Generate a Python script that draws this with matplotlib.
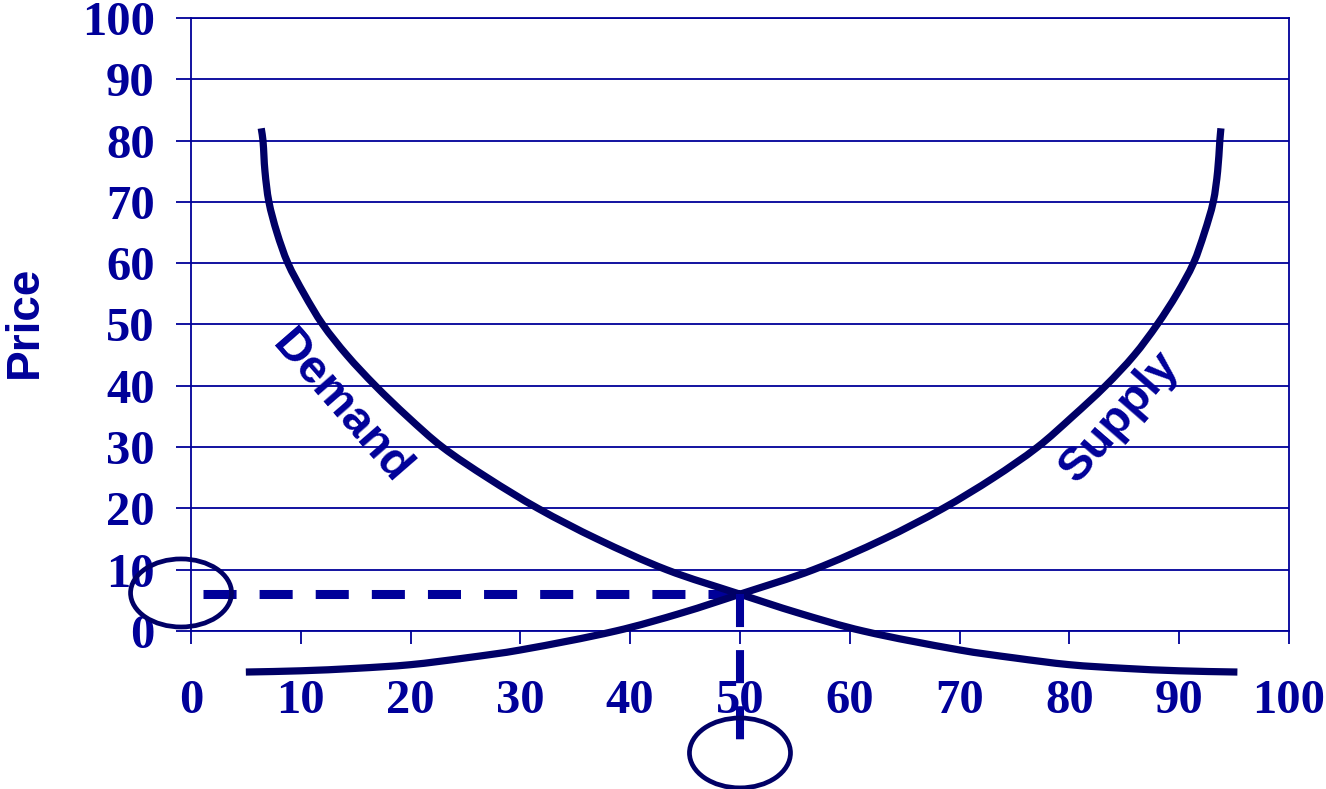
import matplotlib
matplotlib.use("Agg")
import matplotlib.pyplot as plt
import numpy as np
from matplotlib.patches import Ellipse, PathPatch
from matplotlib.path import Path

# Werte
demand_x = [6.4, 6.56, 6.74, 7.1, 7.83, 8.83, 10.3, 12.0, 14.2, 16.8, 19.7, 22.9, 27.0,
            31.6, 37.0, 43.3, 50.0, 55.2, 61.2, 70.0, 75.0, 80.0, 85.0, 90.0, 95.3]
demand_y = [82, 80, 75, 70, 65, 60, 55, 50, 45, 40, 35, 30, 25,
            20, 15, 10, 6, 3, 0, -3.1, -4.4, -5.5, -6.1, -6.5, -6.7]

supply_x = [5.0, 10.0, 15.0, 20.0, 25.0, 30.0, 38.7, 44.8, 50.0, 56.7, 63.1, 68.5, 73.1,
            77.1, 80.3, 83.3, 85.9, 88.0, 89.8, 91.3, 92.3, 93.1, 93.5, 93.7, 93.8]
supply_y = [-6.7, -6.5, -6.1, -5.5, -4.4, -3.1, 0, 3, 6, 10, 15, 20, 25,
            30, 35, 40, 45, 50, 55, 60, 65, 70, 75, 80, 82]

eq_quantity = 50
eq_price = 6

x_ticks = list(range(0, 101, 10))
y_ticks = list(range(0, 101, 10))

blue = "#000099"
navy = "#000066"

plt.rcParams['lines.scale_dashes'] = False


def smooth_path(ax, xs, ys):
    P = ax.transData.transform(np.column_stack([xs, ys]).astype(float))
    T = np.zeros_like(P)
    T[0] = P[1] - P[0]
    T[-1] = P[-1] - P[-2]
    T[1:-1] = P[2:] - P[:-2]
    T /= np.linalg.norm(T, axis=1)[:, None]
    verts = [P[0]]
    codes = [Path.MOVETO]
    for i in range(len(P) - 1):
        d = np.linalg.norm(P[i + 1] - P[i])
        verts += [P[i] + T[i] * d / 3, P[i + 1] - T[i + 1] * d / 3, P[i + 1]]
        codes += [Path.CURVE4] * 3
    verts = ax.transData.inverted().transform(np.array(verts))
    return Path(verts, codes)


fig = plt.figure(figsize=(13.26, 7.89), dpi=100)
ax = fig.add_axes([0.1440, 0.2003, 0.8281, 0.7769])

ax.set_xlim(0, 100)
ax.set_ylim(0, 100)
ax.set_xticks(x_ticks)
ax.set_yticks(y_ticks)

for s in ax.spines.values():
    s.set_color(blue)
    s.set_linewidth(1.3)

ax.yaxis.grid(True, color=blue, linewidth=1.3)
ax.set_axisbelow(True)

ax.tick_params(axis="y", colors=blue, length=11, width=1.3, pad=15)
ax.tick_params(axis="x", colors=blue, length=9.5, width=1.3, pad=25)
for lab in ax.get_xticklabels() + ax.get_yticklabels():
    lab.set_fontfamily("Liberation Serif")
    lab.set_fontweight("bold")
    lab.set_fontsize(35)
    lab.set_color(blue)

fig.text(25 / 1326, 1 - 322 / 789, "Price", family="Liberation Sans", weight="bold",
         size=33, color=blue, rotation=90, ha="center", va="center")

# Kurven
for xs, ys in [(demand_x, demand_y), (supply_x, supply_y)]:
    ax.add_patch(PathPatch(smooth_path(ax, xs, ys), fill=False, edgecolor=navy,
                           linewidth=5.2, capstyle="butt", joinstyle="round",
                           clip_on=False, zorder=4))

# Gleichgewicht
ax.plot([1.1, eq_quantity], [eq_price, eq_price], color=blue, linewidth=6.5,
        dashes=(23.8, 16.6), clip_on=False, zorder=3)
ax.plot([eq_quantity, eq_quantity], [eq_price, -18.3], color=blue, linewidth=5.8,
        dashes=(23.8, 16.6), clip_on=False, zorder=5)

ax.add_patch(Ellipse((-0.9, 6.2), 9.2, 11.1, fill=False, edgecolor=navy,
                     linewidth=3.4, clip_on=False, zorder=5))
ax.add_patch(Ellipse((50, -19.9), 9.2, 11.4, fill=False, edgecolor=navy,
                     linewidth=3.4, clip_on=False, zorder=5))

ax.text(13.65, 36.5, "Demand", family="Liberation Sans", weight="bold", size=34,
        color=blue, rotation=-49, ha="center", va="center", rotation_mode="anchor")
ax.text(84.6, 34.9, "Supply", family="Liberation Sans", weight="bold", size=34,
        color=blue, rotation=49, ha="center", va="center", rotation_mode="anchor")

fig.savefig("out.png", dpi=100)
